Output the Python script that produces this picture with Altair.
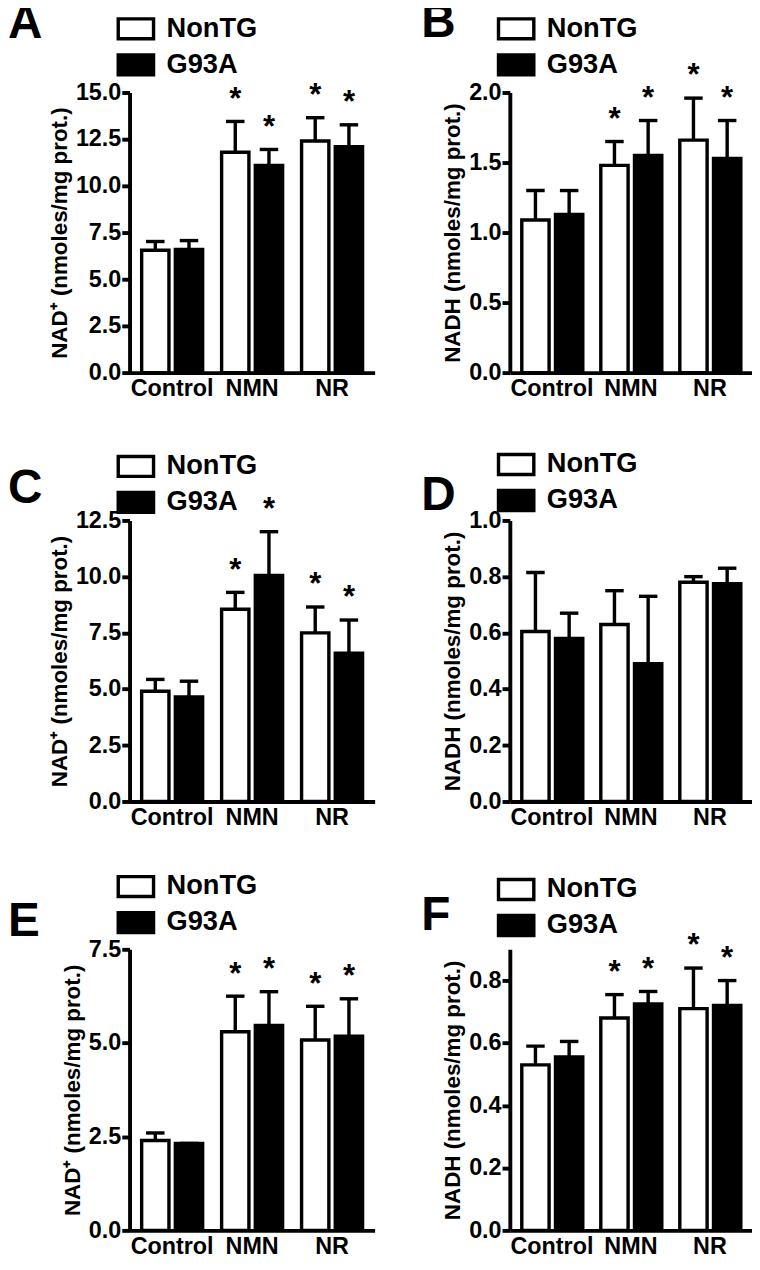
import altair as alt
import pandas as pd

FONT = "Liberation Sans"

groups = ["Control", "NMN", "NR"]
genotypes = ["NonTG", "G93A"]

# Panel A: NAD+ (nmoles/mg prot.)
A_nontg_mean = [6.55, 11.8, 12.4]
A_nontg_sem = [0.47, 1.65, 1.25]
A_g93a_mean = [6.6, 11.1, 12.1]
A_g93a_sem = [0.47, 0.85, 1.17]
A_nontg_sig = [False, True, True]
A_g93a_sig = [False, True, True]

# Panel B: NADH
B_nontg_mean = [1.09, 1.48, 1.66]
B_nontg_sem = [0.21, 0.17, 0.30]
B_g93a_mean = [1.13, 1.55, 1.53]
B_g93a_sem = [0.17, 0.25, 0.27]
B_nontg_sig = [False, True, True]
B_g93a_sig = [False, True, True]

# Panel C: NAD+
C_nontg_mean = [4.9, 8.55, 7.5]
C_nontg_sem = [0.53, 0.75, 1.15]
C_g93a_mean = [4.65, 10.05, 6.6]
C_g93a_sem = [0.7, 1.95, 1.47]
C_nontg_sig = [False, True, True]
C_g93a_sig = [False, True, True]

# Panel D: NADH
D_nontg_mean = [0.605, 0.63, 0.78]
D_nontg_sem = [0.21, 0.12, 0.02]
D_g93a_mean = [0.58, 0.49, 0.775]
D_g93a_sem = [0.09, 0.24, 0.055]
D_nontg_sig = [False, False, False]
D_g93a_sig = [False, False, False]

# Panel E: NAD+
E_nontg_mean = [2.4, 5.3, 5.08]
E_nontg_sem = [0.2, 0.95, 0.9]
E_g93a_mean = [2.32, 5.47, 5.18]
E_g93a_sem = [0.0, 0.9, 1.0]
E_nontg_sig = [False, True, True]
E_g93a_sig = [False, True, True]

# Panel F: NADH
F_nontg_mean = [0.53, 0.68, 0.71]
F_nontg_sem = [0.06, 0.075, 0.13]
F_g93a_mean = [0.555, 0.725, 0.72]
F_g93a_sem = [0.05, 0.04, 0.08]
F_nontg_sig = [False, True, True]
F_g93a_sig = [False, True, True]

nad_title = "NAD\u207a (nmoles/mg prot.)"
nadh_title = "NADH (nmoles/mg prot.)"

A_ticks = [0.0, 2.5, 5.0, 7.5, 10.0, 12.5, 15.0]
B_ticks = [0.0, 0.5, 1.0, 1.5, 2.0]
C_ticks = [0.0, 2.5, 5.0, 7.5, 10.0, 12.5]
D_ticks = [0.0, 0.2, 0.4, 0.6, 0.8, 1.0]
E_ticks = [0.0, 2.5, 5.0, 7.5]
F_ticks = [0.0, 0.2, 0.4, 0.6, 0.8]


def make_df(nm, ns, gm, gs, nsig, gsig):
    rows = []
    for i, g in enumerate(groups):
        rows.append(dict(group=g, genotype="NonTG", mean=nm[i], upper=nm[i] + ns[i], sig=nsig[i]))
        rows.append(dict(group=g, genotype="G93A", mean=gm[i], upper=gm[i] + gs[i], sig=gsig[i]))
    return pd.DataFrame(rows)


def panel(letter, df, ytitle, domain, ticks, width, height, title_dx, title_dy, leg_x, leg_y):
    base = alt.Chart(df)
    x = alt.X("group:N", sort=groups,
              scale=alt.Scale(paddingInner=0.195, paddingOuter=0.13),
              axis=alt.Axis(title=None, ticks=False, tickSize=0, labelAngle=0,
                            labelPadding=5, labelFontSize=24))
    xo = alt.XOffset("genotype:N", sort=genotypes,
                     scale=alt.Scale(paddingInner=0.19, paddingOuter=0.05))
    y = alt.Y("mean:Q", scale=alt.Scale(domain=domain, nice=False, zero=True),
              axis=alt.Axis(title=ytitle, values=ticks, format=".1f",
                            tickSize=8, labelPadding=1, labelFontSize=24,
                            titleFontSize=23, titlePadding=4))
    fill = alt.Fill("genotype:N", sort=genotypes,
                    scale=alt.Scale(domain=genotypes, range=["white", "black"]),
                    legend=alt.Legend(title=None, orient="none", legendX=leg_x, legendY=leg_y,
                                      symbolType="M-1.1,-0.62H1.1V0.62H-1.1Z", symbolSize=1089,
                                      symbolStrokeColor="black", symbolStrokeWidth=3.5,
                                      symbolOpacity=1,
                                      labelFontSize=28, labelFont=FONT, labelFontWeight="bold",
                                      labelColor="black", labelOffset=13, rowPadding=1,
                                      padding=0, labelLimit=300))
    bars = base.mark_bar(stroke="black", strokeWidth=3.5).encode(x=x, xOffset=xo, y=y, fill=fill)
    rules = base.mark_rule(color="black", strokeWidth=3.5).encode(
        x=x, xOffset=xo, y=alt.Y("mean:Q"), y2=alt.Y2("upper:Q"))
    caps = base.mark_tick(color="black", thickness=3.5, size=19, opacity=1).encode(
        x=x, xOffset=xo, y=alt.Y("upper:Q"))
    stars = base.transform_filter(alt.datum.sig).mark_text(
        text="*", fontSize=32, font=FONT, fontWeight="bold", color="black",
        baseline="alphabetic", dy=-13).encode(x=x, xOffset=xo, y=alt.Y("upper:Q"))
    return alt.layer(bars, rules, caps, stars).properties(
        width=width, height=height,
        title=alt.TitleParams(text=letter, anchor="start", frame="group", fontSize=49,
                              font=FONT, fontWeight="bold", color="black",
                              offset=0, dx=title_dx, dy=title_dy)
    )


pA = panel("A", make_df(A_nontg_mean, A_nontg_sem, A_g93a_mean, A_g93a_sem, A_nontg_sig, A_g93a_sig),
           nad_title, [0, 15], A_ticks, 252, 288, -125, 38, -12, -84)
pB = panel("B", make_df(B_nontg_mean, B_nontg_sem, B_g93a_mean, B_g93a_sem, B_nontg_sig, B_g93a_sig),
           nadh_title, [0, 2], B_ticks, 249, 288, -91, 37, -12, -84)
pC = panel("C", make_df(C_nontg_mean, C_nontg_sem, C_g93a_mean, C_g93a_sem, C_nontg_sig, C_g93a_sig),
           nad_title, [0, 12.5], C_ticks, 252, 289, -125, 66, -12, -74)
pD = panel("D", make_df(D_nontg_mean, D_nontg_sem, D_g93a_mean, D_g93a_sem, D_nontg_sig, D_g93a_sig),
           nadh_title, [0, 1], D_ticks, 249, 289, -91, 75, -12, -76)
pE = panel("E", make_df(E_nontg_mean, E_nontg_sem, E_g93a_mean, E_g93a_sem, E_nontg_sig, E_g93a_sig),
           nad_title, [0, 7.5], E_ticks, 252, 289, -125, 79, -12, -83)
pF = panel("F", make_df(F_nontg_mean, F_nontg_sem, F_g93a_mean, F_g93a_sem, F_nontg_sig, F_g93a_sig),
           nadh_title, [0, 0.9], F_ticks, 249, 289, -91, 70, -12, -80)

chart = alt.concat(
    pA, pB, pC, pD, pE, pF, columns=2,
    spacing=alt.RowColnumber(row=152, column=139), bounds="flush"
).resolve_scale(fill="independent").resolve_legend(fill="independent").properties(
    padding={"top": -27, "left": 0, "right": 0, "bottom": 0}
).configure_view(stroke=None).configure_axis(
    domainColor="black", domainWidth=4, tickColor="black", tickWidth=4,
    labelFont=FONT, labelFontWeight="bold", labelColor="black",
    titleFont=FONT, titleFontWeight="bold", titleColor="black", grid=False
)

chart.save("out.html", embed_options={"renderer": "svg", "actions": False})
